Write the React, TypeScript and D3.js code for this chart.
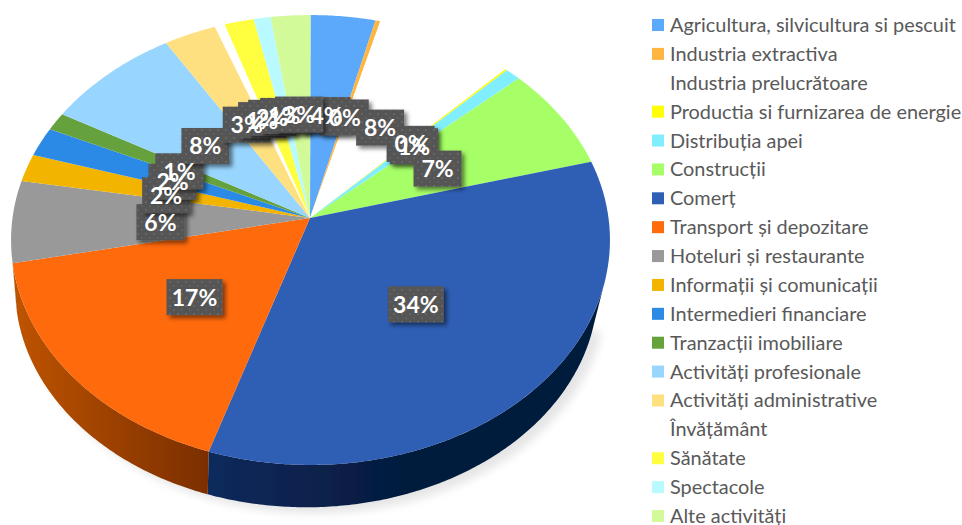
import React from "react";
import * as d3 from "d3";

const categories = ["Agricultura, silvicultura si pescuit","Industria extractiva","Industria prelucrătoare","Productia si furnizarea de energie","Distribuția apei","Construcții","Comerț","Transport și depozitare","Hoteluri și restaurante","Informații și comunicații","Intermedieri financiare","Tranzacții imobiliare","Activități profesionale","Activități administrative","Învățământ","Sănătate","Spectacole","Alte activități"];
const values = [3.84,0.29,8.2,0.12,0.92,7.46,34.2,16.8,5.9,2.0,2.1,1.3,8.1,3.1,0.6,1.75,1.0,2.35];
const labels = ["4%","0%","8%","0%","1%","7%","34%","17%","6%","2%","2%","1%","8%","3%","1%","2%","1%","3%"];
const colors = ["#5BA9FB","#FFB640","#FFFFFF","#FFFF00","#80EEFF","#A6FF66","#2F5FB5","#FF6A0A","#999999","#F3B400","#2A8AE6","#65A23C","#99D6FF","#FFE080","#FFFFFF","#FFFF40","#B8FAFF","#D3FA99"];
const wallStops: Record<number, string[]> = {
  6: ["#0d2a5c", "#051a3e"],
  7: ["#bf5400", "#7a2e00"],
};

const CX = 310.5, CY = 218, R = 298, H = 222.8, K = 0.0978, BOTTOM_SCALE = 0.973, DEPTH = 49.7, BOTTOM_SHIFT = -4, LABEL_DY = 2.5, LABEL_DX = -1;
const project = (angle: number, r: number, dz = 0, dx = 0): [number, number] => {
  const u = r * Math.sin(angle), v = r * Math.cos(angle);
  const w = 1 + K * v;
  return [CX + dx + (R * u) / w, CY - (H * v) / w + dz];
};
const arcs = d3.pie<number>().sort(null).value((d) => d)(values);
const line = d3.line();
const arcPoints = (a0: number, a1: number, r = 1, dz = 0, dx = 0) => {
  const n = Math.max(2, Math.ceil((a1 - a0) / 0.01));
  return d3.range(n + 1).map((i) => project(a0 + ((a1 - a0) * i) / n, r, dz, dx));
};
const legendY = d3.scalePoint<number>().domain(d3.range(categories.length)).range([25, 516]);

export default function App() {
  const wallStart = (105 * Math.PI) / 180, wallEnd = (262 * Math.PI) / 180;
  const shadow = line(arcPoints(wallStart, wallEnd, BOTTOM_SCALE, DEPTH, BOTTOM_SHIFT) as [number, number][])! + "Z";
  return (
    <svg width={962} height={525} style={{ position: "absolute", left: 0, top: 0, fontFamily: "Lato" }}>
      <defs>
        <pattern id="dots" width={8} height={8} patternUnits="userSpaceOnUse">
          <rect width={8} height={8} fill="#555555" />
          <circle cx={2} cy={2} r={1} fill="#6b6b6b" />
          <circle cx={6} cy={6} r={1} fill="#646464" />
        </pattern>
        <filter id="shadow" x="-30%" y="-30%" width="160%" height="160%">
          <feDropShadow dx={3} dy={3} stdDeviation={2} floodColor="#000" floodOpacity={0.5} />
        </filter>
        <filter id="soft" x="-5%" y="-5%" width="110%" height="110%">
          <feGaussianBlur stdDeviation={0.4} />
        </filter>
        <filter id="wide" x="-10%" y="-10%" width="120%" height="120%">
          <feGaussianBlur stdDeviation={5} />
        </filter>
        <linearGradient id="wall6" gradientUnits="userSpaceOnUse" x1={210} x2={400} y1={0} y2={0}>
          <stop offset="0" stopColor={wallStops[6][0]} />
          <stop offset="1" stopColor={wallStops[6][1]} />
        </linearGradient>
        <linearGradient id="wall7" gradientUnits="userSpaceOnUse" x1={13} x2={210} y1={0} y2={0}>
          <stop offset="0" stopColor={wallStops[7][0]} />
          <stop offset="1" stopColor={wallStops[7][1]} />
        </linearGradient>
      </defs>
      <path d={shadow} transform="translate(8,6)" fill="#000" opacity={0.1} filter="url(#wide)" />
      <g filter="url(#soft)">
        {arcs.map((a, i) => {
          const s = Math.max(a.startAngle, wallStart);
          const e = Math.min(a.endAngle, wallEnd);
          if (e <= s) return null;
          const pts = [...arcPoints(s, e), ...arcPoints(s, e, BOTTOM_SCALE, DEPTH, BOTTOM_SHIFT).reverse()];
          return <path key={`w${i}`} d={line(pts as [number, number][])! + "Z"} fill={wallStops[i] ? `url(#wall${i})` : colors[i]} />;
        })}
        {arcs.map((a, i) => (
          <path key={i} d={line([[310, CY], ...arcPoints(a.startAngle, a.endAngle)] as [number, number][])! + "Z"} fill={colors[i]} />
        ))}
      </g>
      {arcs.map((a, i) => {
        const [x, y] = project((a.startAngle + a.endAngle) / 2, 0.5, LABEL_DY, LABEL_DX);
        const w = labels[i].length > 2 ? 56 : 48;
        return <rect key={i} x={x - w / 2} y={y - 18} width={w} height={36} fill="url(#dots)" filter="url(#shadow)" />;
      })}
      {arcs.map((a, i) => {
        const [x, y] = project((a.startAngle + a.endAngle) / 2, 0.5, LABEL_DY, LABEL_DX);
        return <text key={i} x={x} y={y + 8.5} textAnchor="middle" fill="#fff" fontWeight={700} fontSize={23}>{labels[i]}</text>;
      })}
      {categories.map((c, i) => (
        <g key={c}>
          <rect x={652} y={legendY(i)! - 6} width={12} height={12} fill={colors[i]} />
          <text x={670} y={legendY(i)! + 7} fontSize={19.9} fill="#595959">{c}</text>
        </g>
      ))}
    </svg>
  );
}
